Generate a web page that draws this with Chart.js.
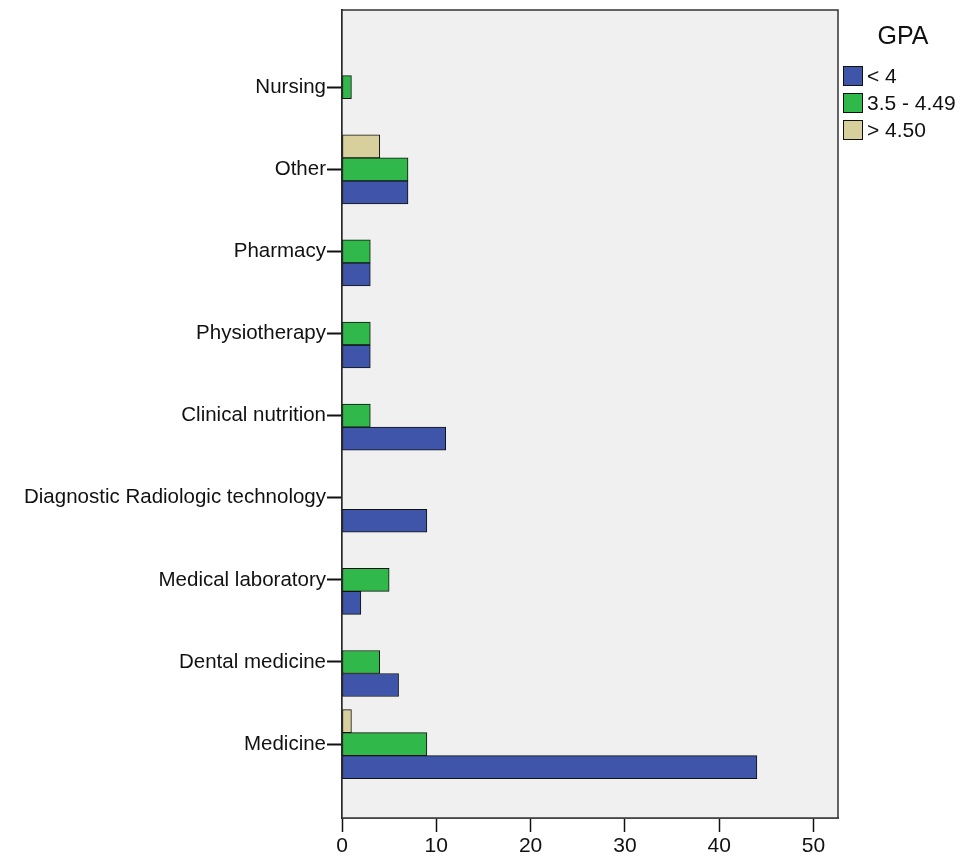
<!DOCTYPE html>
<html>
<head>
<meta charset="utf-8">
<script src="https://cdn.jsdelivr.net/npm/chart.js@4"></script>
<style>
html,body{margin:0;padding:0;background:#fff;}
#wrap{width:967px;height:861px;}
</style>
</head>
<body>
<div id="wrap"><canvas id="c" width="967" height="861"></canvas></div>
<script>
const categories = ["Nursing","Other","Pharmacy","Physiotherapy","Clinical nutrition","Diagnostic Radiologic technology","Medical laboratory","Dental medicine","Medicine"];
const seriesLabels = ["< 4","3.5 - 4.49","> 4.50"];
const below4 = [null,7,3,3,11,9,2,6,44];
const mid = [1,7,3,3,3,null,5,4,9];
const above450 = [null,4,null,null,null,null,null,null,1];
const xTicks = [0,10,20,30,40,50];

const colors = ["#3e55aa","#30b84b","#d7d09c"];
const FONT = "'Liberation Sans', Arial, sans-serif";

function pts(arr){ return arr.map((v,i)=>({x:v, y:i})); }

// datasets ordered top-to-bottom within each group: > 4.50, 3.5 - 4.49, < 4
const datasets = [
  {label: seriesLabels[2], data: pts(above450), backgroundColor: colors[2], legendIndex: 2},
  {label: seriesLabels[1], data: pts(mid), backgroundColor: colors[1], legendIndex: 1},
  {label: seriesLabels[0], data: pts(below4), backgroundColor: colors[0], legendIndex: 0}
].map(d=>Object.assign(d,{borderColor:"#111", borderWidth:1, borderSkipped:false, barThickness:23}));

const plotPlugin = {
  id:'plotBg',
  beforeDatasetsDraw(chart){
    const {ctx, chartArea:a} = chart;
    ctx.save();
    ctx.fillStyle = "#f0f0f0";
    ctx.fillRect(a.left, a.top, a.right-a.left, a.bottom-a.top);
    ctx.strokeStyle = "#333";
    ctx.lineWidth = 1.5;
    ctx.strokeRect(a.left, a.top, a.right-a.left, a.bottom-a.top);
    ctx.restore();
  },
  afterDraw(chart){
    const ctx = chart.ctx;
    ctx.save();
    ctx.fillStyle = "#111";
    ctx.font = "25px " + FONT;
    ctx.textAlign = "center";
    ctx.textBaseline = "middle";
    ctx.fillText("GPA", 903, 37);
    ctx.font = "21px " + FONT;
    ctx.textAlign = "left";
    const items = chart.data.datasets.slice().sort((a,b)=>a.legendIndex-b.legendIndex);
    items.forEach((d,i)=>{
      const y = 66 + i*27;
      ctx.fillStyle = d.backgroundColor;
      ctx.fillRect(843.5, y+0.5, 19, 19);
      ctx.strokeStyle = "#111";
      ctx.lineWidth = 1;
      ctx.strokeRect(843.5, y+0.5, 19, 19);
      ctx.fillStyle = "#111";
      ctx.fillText(d.label, 867, y+11);
    });
    ctx.restore();
  }
};

new Chart(document.getElementById('c'), {
  type: 'bar',
  data: { datasets },
  options: {
    indexAxis: 'y',
    responsive: false,
    animation: false,
    devicePixelRatio: 1,
    layout: { padding: { top: 10, right: 129, left: 0, bottom: 0 } },
    plugins: { legend: { display: false }, tooltip: { enabled: false } },
    scales: {
      x: {
        type: 'linear',
        min: 0, max: 52.6,
        afterBuildTicks: s => { s.ticks = xTicks.map(v=>({value:v})); },
        afterFit: s => { s.height = 43; },
        grid: { drawOnChartArea: false, drawTicks: true, tickLength: 14, tickColor: "#111", tickWidth: 1.5 },
        border: { display: true, color: "#111", width: 1.5 },
        ticks: { color: "#111", font: { family: FONT, size: 21 }, padding: 2, maxRotation: 0 }
      },
      y: {
        type: 'linear',
        reverse: true,
        offset: false,
        min: -0.94, max: 8.9,
        afterBuildTicks: s => { s.ticks = categories.map((_,i)=>({value:i})); },
        afterFit: s => { s.width = 342; s.paddingTop = 0; s.paddingBottom = 0; },
        grid: { offset: false, drawOnChartArea: false, drawTicks: true, tickLength: 15, tickColor: "#111", tickWidth: 2 },
        border: { display: true, color: "#111", width: 2 },
        ticks: { color: "#111", font: { family: FONT, size: 20.5 }, padding: 1, autoSkip: false,
          callback: v => categories[v] }
      }
    }
  },
  plugins: [plotPlugin]
});
</script>
</body>
</html>
